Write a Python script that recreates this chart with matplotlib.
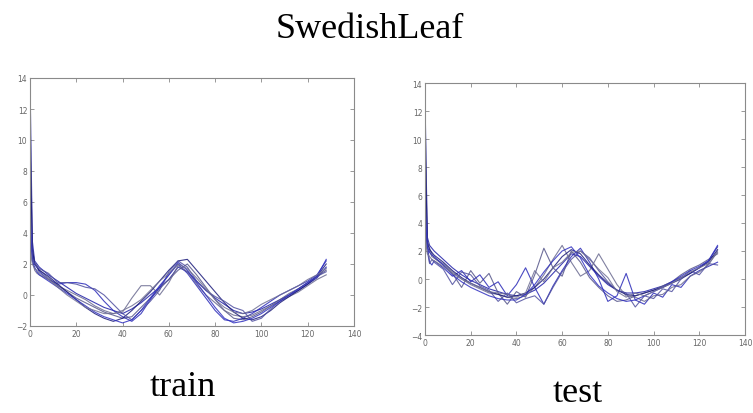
import matplotlib
matplotlib.use("Agg")
import matplotlib.pyplot as plt

# sample positions along the 128-point series
xs = [0, 1, 2, 3, 4, 8, 12, 16, 20, 24, 28, 32, 36, 40, 44, 48, 52, 56,
      60, 64, 68, 72, 76, 80, 84, 88, 92, 96, 100, 104, 108, 112, 116,
      120, 124, 128]

# train series
train_1 = [14, 3.5, 2.2, 2.0, 1.8, 1.3, 0.9, 0.5, 0.1, -0.2, -0.5, -0.8, -1.0, -1.2, -0.9, -0.5, 0.0, 0.5,
           1.0, 1.8, 1.5, 0.9, 0.3, -0.2, -0.6, -1.0, -1.2, -1.1, -0.9, -0.6, -0.3, 0.0, 0.3, 0.7, 1.1, 1.8]
train_2 = [12, 3.0, 2.1, 1.9, 1.6, 1.1, 0.6, 0.2, -0.2, -0.5, -0.8, -1.1, -1.3, -1.5, -1.4, -0.8, -0.2, 0.4,
           1.0, 1.6, 2.0, 1.3, 0.5, -0.3, -1.0, -1.5, -1.6, -1.4, -1.1, -0.7, -0.3, 0.1, 0.4, 0.8, 1.2, 1.6]
train_3 = [8, 2.6, 2.0, 1.8, 1.5, 1.0, 0.7, 0.8, 0.8, 0.7, 0.3, -0.4, -1.0, -1.4, -1.7, -1.2, -0.3, 0.5,
           1.3, 2.0, 1.4, 0.6, -0.2, -1.0, -1.6, -1.7, -1.5, -1.2, -0.8, -0.4, 0.0, 0.3, 0.6, 0.9, 1.3, 2.2]
train_4 = [4, 2.3, 1.6, 1.4, 1.3, 1.0, 0.6, 0.3, 0.0, -0.3, -0.7, -1.0, -1.2, -1.1, -0.2, 0.6, 0.6, 0.0,
           0.8, 1.9, 1.5, 0.7, 0.0, -0.5, -1.0, -1.3, -1.4, -1.3, -1.0, -0.7, -0.4, -0.1, 0.2, 0.6, 1.0, 1.3]
train_5 = [10, 3.0, 2.0, 1.8, 1.6, 1.2, 0.7, 0.2, -0.3, -0.8, -1.2, -1.5, -1.7, -1.5, -1.0, -0.4, 0.2, 0.9,
           1.6, 2.2, 2.3, 1.6, 0.9, 0.2, -0.5, -1.1, -1.5, -1.6, -1.4, -1.0, -0.5, -0.1, 0.3, 0.7, 1.2, 2.0]
train_6 = [6, 2.4, 2.0, 1.8, 1.7, 1.4, 0.8, 0.8, 0.7, 0.5, 0.4, 0.0, -0.6, -1.2, -1.6, -1.0, -0.4, 0.3,
           1.5, 2.2, 1.8, 0.9, 0.3, -0.1, -0.4, -0.8, -1.0, -1.7, -1.5, -0.9, -0.4, 0.0, 0.4, 0.8, 1.2, 1.5]
train_7 = [5, 2.2, 1.8, 1.5, 1.3, 0.9, 0.5, 0.1, -0.3, -0.7, -1.1, -1.4, -1.6, -1.8, -1.6, -1.0, -0.2, 0.6,
           1.3, 2.1, 1.6, 0.8, 0.0, -0.8, -1.5, -1.8, -1.7, -1.5, -1.2, -0.8, -0.4, 0.0, 0.4, 0.8, 1.2, 2.3]
train_8 = [3, 2.0, 1.7, 1.6, 1.4, 1.0, 0.5, 0.0, -0.4, -0.8, -1.0, -1.2, -1.2, -1.0, -0.7, -0.3, 0.3, 0.9,
           1.4, 2.0, 1.7, 1.1, 0.4, -0.3, -0.8, -1.1, -1.2, -1.0, -0.6, -0.3, 0.0, 0.3, 0.6, 1.0, 1.3, 1.7]

# test series
test_1 = [13, 3.0, 2.4, 2.2, 2.0, 1.4, 0.8, 0.3, -0.1, -0.4, -0.7, -0.9, -1.1, -1.2, -1.1, -0.8, -0.3, 0.4,
          1.1, 1.8, 1.6, 0.9, 0.2, -0.4, -0.8, -1.0, -1.0, -0.9, -0.7, -0.5, -0.2, 0.1, 0.4, 0.8, 1.3, 2.3]
test_2 = [12, 2.8, 2.2, 1.8, 1.5, 1.0, 0.4, -0.6, 0.6, -0.3, 0.4, -1.0, -1.8, -0.9, -1.3, 0.3, 2.2, 0.8,
          0.2, 2.0, 1.2, 0.1, -0.6, -1.2, -1.6, -1.5, -1.2, -1.0, -0.8, -0.5, -0.2, 0.3, 0.7, 1.0, 1.4, 1.8]
test_3 = [8, 2.5, 1.2, 1.0, 1.3, 0.8, 0.2, 0.6, -0.2, 0.3, -0.6, -0.2, -1.2, -0.4, 0.8, -0.6, -1.8, -0.5,
          0.6, 1.6, 2.2, 1.2, 0.0, -1.6, -1.2, 0.4, -1.5, -1.8, -1.0, -1.3, -0.4, -0.6, 0.2, 0.6, 0.9, 1.2]
test_4 = [4, 2.2, 2.0, 1.6, 1.5, 1.1, 0.5, 0.0, -0.4, -0.7, -1.0, -1.1, -1.3, -1.4, -1.2, -0.6, 0.3, 1.4,
          2.4, 1.2, 0.2, 0.6, 1.8, 0.7, -0.4, -1.2, -1.3, -1.6, -1.2, -1.1, -0.6, -0.4, 0.2, 0.5, 1.0, 2.0]
test_5 = [10, 2.6, 2.1, 1.9, 1.7, 1.2, 0.6, 0.1, -0.3, -0.6, -0.9, -1.1, -1.3, -1.2, -1.0, -0.6, 0.0, 0.8,
          1.6, 2.1, 1.8, 1.0, 0.3, -0.3, -0.8, -1.1, -1.2, -1.0, -0.8, -0.6, -0.3, 0.0, 0.4, 0.8, 1.2, 2.1]
test_6 = [6, 2.0, 1.1, 1.4, 1.2, 0.7, -0.4, 0.5, 0.3, -0.5, -0.8, -1.6, -1.0, -1.7, -1.4, -1.2, -1.8, -0.6,
          0.5, 1.4, 2.0, 1.5, 0.6, -0.2, -0.8, -1.0, -2.0, -1.2, -1.4, -0.7, -0.9, 0.0, 0.6, 0.3, 1.1, 1.0]
test_7 = [5, 2.3, 1.9, 1.7, 1.6, 1.0, 0.3, -0.2, -0.6, -0.9, -1.2, -1.4, -1.5, -1.5, -1.1, -0.4, 0.5, 1.3,
          2.0, 2.3, 1.5, 0.3, -0.5, -1.0, -1.4, -1.6, -1.5, -1.2, -0.9, -0.6, -0.2, 0.2, 0.6, 0.9, 1.3, 2.4]
test_8 = [3, 1.8, 1.6, 1.4, 1.3, 0.9, 0.4, 0.0, -0.3, -0.6, -0.9, -1.0, -1.1, -1.3, -1.0, 0.6, -0.2, 0.8,
          1.2, 1.9, 2.0, 1.4, 0.7, 0.1, -0.9, -1.3, -1.0, -1.2, -0.9, -0.6, -0.3, 0.1, 0.5, 0.8, 1.1, 1.9]

train = [train_1, train_2, train_3, train_4, train_5, train_6, train_7, train_8]
test = [test_1, test_2, test_3, test_4, test_5, test_6, test_7, test_8]
line_colors = ["#1f1fa8", "#55558a", "#2a2ab8", "#6a6a90", "#1a1a7a", "#5050a0", "#3030c0", "#707095"]

x_ticks = [0, 20, 40, 60, 80, 100, 120, 140]

fig = plt.figure(figsize=(7.53, 4.14), dpi=100)


def style_axes(ax, ylim):
    ax.set_xlim(0, 140)
    ax.set_ylim(*ylim)
    ax.set_xticks(x_ticks)
    ax.set_yticks(range(ylim[0], ylim[1] + 1, 2))
    ax.tick_params(direction="in", length=3, width=0.6, colors="#888888",
                   labelsize=5.5, labelcolor="#666666", top=True, right=True, pad=2)
    for s in ax.spines.values():
        s.set_color("#8a8a8a")
        s.set_linewidth(0.8)


ax1 = fig.add_axes([30 / 753, 1 - 327 / 414, 324 / 753, 248 / 414])
for series, c in zip(train, line_colors):
    ax1.plot(xs, series, color=c, lw=0.8, alpha=0.85)
style_axes(ax1, (-2, 14))

ax2 = fig.add_axes([425 / 753, 1 - 336 / 414, 320 / 753, 252 / 414])
for series, c in zip(test, line_colors):
    ax2.plot(xs, series, color=c, lw=0.8, alpha=0.85)
style_axes(ax2, (-4, 14))

serif = "Liberation Serif"
fig.text(370 / 753, 1 - 30 / 414, "SwedishLeaf", ha="center", va="center",
         family=serif, fontsize=26)
fig.text(183 / 753, 1 - 388 / 414, "train", ha="center", va="center",
         family=serif, fontsize=26)
fig.text(578 / 753, 1 - 394 / 414, "test", ha="center", va="center",
         family=serif, fontsize=26)

fig.savefig("out.png", dpi=100)
